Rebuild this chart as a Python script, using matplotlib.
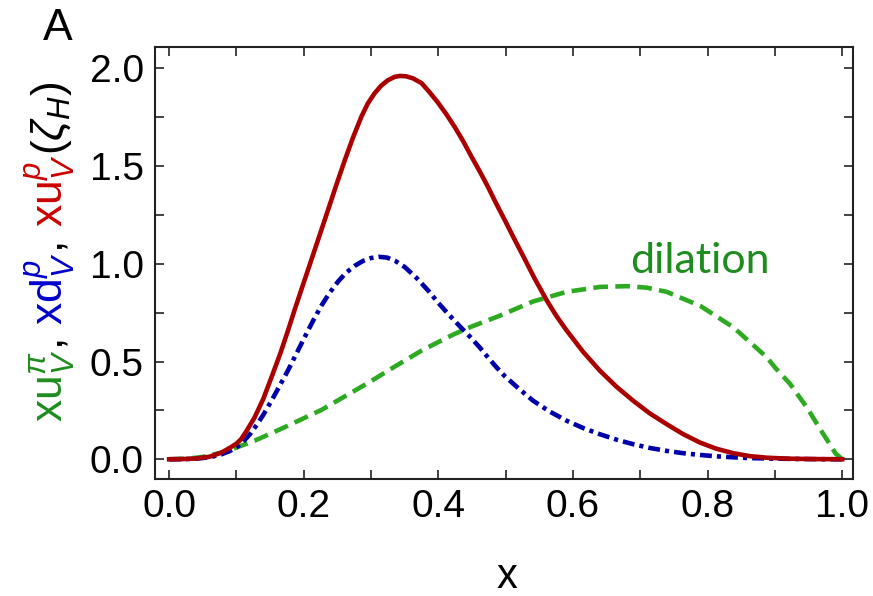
import numpy as np
import matplotlib
matplotlib.use("Agg")
import matplotlib.pyplot as plt
from matplotlib.transforms import IdentityTransform

plt.rcParams['font.family'] = ['Liberation Sans', 'DejaVu Sans']
plt.rcParams['mathtext.fontset'] = 'custom'
plt.rcParams['mathtext.rm'] = 'Liberation Sans'
plt.rcParams['mathtext.it'] = 'Liberation Sans:italic'

## donnees lues sur la figure
# xu_V^p (rouge, trait plein)
x_red = [0.0, 0.02, 0.04, 0.06, 0.0775, 0.09, 0.1, 0.107, 0.115, 0.127,
         0.14, 0.152, 0.165, 0.1766, 0.186, 0.196, 0.206, 0.216, 0.226, 0.236,
         0.248, 0.261, 0.273, 0.2857, 0.295, 0.305, 0.315, 0.325, 0.335,
         0.3427, 0.352, 0.362, 0.375, 0.387, 0.3997, 0.412, 0.4244, 0.437,
         0.449, 0.462, 0.474, 0.486, 0.4988, 0.512, 0.526, 0.543, 0.561,
         0.575, 0.5906, 0.615, 0.64, 0.665, 0.6896, 0.714, 0.739, 0.764,
         0.789, 0.813, 0.838, 0.863, 0.888, 0.92, 0.96, 1.0]
y_red = [0.0, 0.001, 0.004, 0.013, 0.034, 0.058, 0.08, 0.103, 0.145, 0.214,
         0.31, 0.419, 0.54, 0.659, 0.76, 0.864, 0.966, 1.069, 1.172, 1.275,
         1.40, 1.531, 1.645, 1.754, 1.82, 1.872, 1.912, 1.940, 1.957,
         1.962, 1.960, 1.950, 1.925, 1.878, 1.824, 1.765, 1.700, 1.627,
         1.550, 1.470, 1.392, 1.308, 1.223, 1.133, 1.04, 0.925, 0.813,
         0.735, 0.659, 0.55, 0.453, 0.37, 0.299, 0.235, 0.18, 0.128,
         0.085, 0.054, 0.031, 0.016, 0.008, 0.003, 0.001, 0.0]

# xd_V^p (bleu, tiret-point)
x_blue = [0.0, 0.02, 0.04, 0.06, 0.0775, 0.09, 0.1, 0.11, 0.12, 0.13,
          0.14, 0.152, 0.164, 0.1766, 0.189, 0.2014, 0.214, 0.226, 0.238,
          0.251, 0.263, 0.2757, 0.288, 0.30, 0.312, 0.324, 0.336, 0.35,
          0.367, 0.3847, 0.40, 0.4145, 0.432, 0.449, 0.462, 0.474, 0.486,
          0.4988, 0.52, 0.541, 0.565, 0.5906, 0.615, 0.64, 0.665, 0.6896,
          0.714, 0.739, 0.764, 0.789, 0.813, 0.838, 0.863, 0.888, 0.93,
          0.97, 1.0]
y_blue = [0.0, 0.0005, 0.003, 0.01, 0.025, 0.042, 0.06, 0.09, 0.128, 0.175,
          0.228, 0.299, 0.375, 0.455, 0.54, 0.625, 0.71, 0.785, 0.85,
          0.91, 0.955, 0.99, 1.015, 1.03, 1.036, 1.032, 1.015, 0.984,
          0.93, 0.864, 0.80, 0.744, 0.68, 0.62, 0.57, 0.52, 0.472,
          0.425, 0.36, 0.299, 0.245, 0.197, 0.16, 0.128, 0.1, 0.077,
          0.058, 0.043, 0.031, 0.022, 0.015, 0.01, 0.006, 0.004, 0.0015,
          0.0003, 0.0]

# xu_V^pi (vert, tirets)
x_green = [0.0, 0.03, 0.05, 0.0775, 0.1, 0.127, 0.15, 0.1766, 0.2, 0.226,
           0.25, 0.2757, 0.3, 0.325, 0.35, 0.375, 0.4, 0.4244, 0.45, 0.4914,
           0.541, 0.5906, 0.64, 0.68, 0.71, 0.739, 0.789, 0.838, 0.888,
           0.9, 0.9227, 0.935, 0.9475, 0.96, 0.972, 0.98, 0.99, 1.0]
y_green = [0.0, 0.004, 0.012, 0.034, 0.06, 0.095, 0.13, 0.172, 0.21, 0.252,
           0.30, 0.351, 0.40, 0.453, 0.505, 0.556, 0.60, 0.642, 0.68, 0.735,
           0.808, 0.857, 0.882, 0.886, 0.878, 0.857, 0.785, 0.676, 0.522,
           0.47, 0.385, 0.325, 0.265, 0.195, 0.128, 0.085, 0.03, 0.0]

x_ticks = np.round(np.arange(0, 1.01, 0.1), 2)
x_ticklabels = ['0.0', '', '0.2', '', '0.4', '', '0.6', '', '0.8', '', '1.0']
y_ticks = np.arange(0, 2.01, 0.25)
y_ticklabels = ['0.0', '', '0.5', '', '1.0', '', '1.5', '', '2.0']

## figure
W, H = 873, 596
fig = plt.figure(figsize=(W / 100, H / 100), dpi=100)
ax = fig.add_axes([155 / W, 1 - 479 / H, (853 - 155) / W, (479 - 47) / H])

ax.plot(x_green, y_green, color='#2DAA22', lw=3.3, dashes=(3.2, 1.6))
ax.plot(x_blue, y_blue, color='#0000AA', lw=3.3, dashes=(2.6, 1.1, 0.9, 1.1))
ax.plot(x_red, y_red, color='#AA0000', lw=3.3)

ax.set_xlim(-0.021, 1.016)
ax.set_ylim(-0.101, 2.11)
ax.set_xticks(x_ticks)
ax.set_xticklabels(x_ticklabels)
ax.set_yticks(y_ticks)
ax.set_yticklabels(y_ticklabels)
ax.tick_params(direction='in', top=True, right=True, length=6.5, width=1.2,
               labelsize=28, color='#222222')
ax.tick_params(axis='x', pad=7)
ax.tick_params(axis='y', pad=8)
for s in ax.spines.values():
    s.set_linewidth(1.5)
    s.set_color('#222222')

ax.text(0.685, 0.951, 'dilation', color='#1E8C1E', fontsize=31,
        family=['Lato', 'DejaVu Sans'], ha='left', va='baseline')

# label x et "A"
fig.text(507, 8, 'x', transform=IdentityTransform(), fontsize=30,
         ha='center', va='baseline')
fig.text(43, H - 40, 'A', transform=IdentityTransform(), fontsize=32,
         ha='left', va='baseline')

# label y en plusieurs couleurs
pieces = [(r'$\mathrm{xu}_{V}^{\pi}$', '#1E8C1E'),
          (', ', 'black'),
          (r'$\mathrm{xd}_{V}^{p}$', '#0000CC'),
          (', ', 'black'),
          (r'$\mathrm{xu}_{V}^{p}$', '#CC0000'),
          (r'$(\zeta_{H})$', 'black')]
renderer = fig.canvas.get_renderer()
ypos = H - 422
for txt, col in pieces:
    t = fig.text(63, ypos, txt, transform=IdentityTransform(), fontsize=32,
                 color=col, rotation=90, rotation_mode='anchor',
                 ha='left', va='baseline')
    bb = t.get_window_extent(renderer)
    ypos += bb.height

fig.savefig('out.png', dpi=100)
